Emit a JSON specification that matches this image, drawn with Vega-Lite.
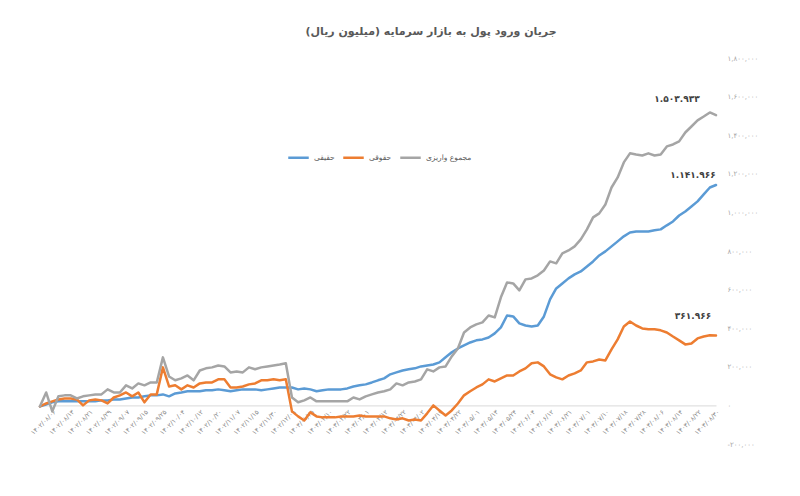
{
  "$schema": "https://vega.github.io/schema/vega-lite/v6.json",
  "autosize": "none",
  "width": 676,
  "height": 386,
  "padding": {"left": 40, "top": 58, "right": 84, "bottom": 52},
  "background": "white",
  "title": {"text": "جریان ورود پول به بازار سرمایه (میلیون ریال)", "font": "DejaVu Sans", "fontSize": 11, "fontWeight": "bold", "color": "#595959", "anchor": "middle", "frame": "group", "dx": 53, "offset": 6, "baseline": "bottom"},
  "config": {
    "locale": {"number": {"decimal": ".", "thousands": ",", "grouping": [3], "currency": ["", ""], "numerals": ["۰","۱","۲","۳","۴","۵","۶","۷","۸","۹"], "minus": "-"}},
    "view": {"stroke": null},
    "font": "DejaVu Sans"
  },
  "data": {"values": [
    {"d":"۱۴۰۲/۰۸/۰۱","حقیقی":-5000,"حقوقی":-5000,"مجموع واریزی":-5000},
    {"d":"۱۴۰۲/۰۸/۰۳","حقیقی":5000,"حقوقی":10000,"مجموع واریزی":67000},
    {"d":"۱۴۰۲/۰۸/۰۶","حقیقی":16000,"حقوقی":21000,"مجموع واریزی":-31000},
    {"d":"۱۴۰۲/۰۸/۰۸","حقیقی":21000,"حقوقی":31000,"مجموع واریزی":47000},
    {"d":"۱۴۰۲/۰۸/۱۰","حقیقی":21000,"حقوقی":36000,"مجموع واریزی":52000},
    {"d":"۱۴۰۲/۰۸/۱۳","حقیقی":21000,"حقوقی":36000,"مجموع واریزی":52000},
    {"d":"۱۴۰۲/۰۸/۱۵","حقیقی":21000,"حقوقی":31000,"مجموع واریزی":36000},
    {"d":"۱۴۰۲/۰۸/۱۷","حقیقی":21000,"حقوقی":0,"مجموع واریزی":47000},
    {"d":"۱۴۰۲/۰۸/۲۱","حقیقی":21000,"حقوقی":26000,"مجموع واریزی":52000},
    {"d":"۱۴۰۲/۰۸/۲۳","حقیقی":21000,"حقوقی":31000,"مجموع واریزی":57000},
    {"d":"۱۴۰۲/۰۸/۲۷","حقیقی":26000,"حقوقی":26000,"مجموع واریزی":57000},
    {"d":"۱۴۰۲/۰۸/۲۹","حقیقی":26000,"حقوقی":10000,"مجموع واریزی":83000},
    {"d":"۱۴۰۲/۰۹/۰۱","حقیقی":31000,"حقوقی":41000,"مجموع واریزی":67000},
    {"d":"۱۴۰۲/۰۹/۰۴","حقیقی":31000,"حقوقی":52000,"مجموع واریزی":67000},
    {"d":"۱۴۰۲/۰۹/۰۷","حقیقی":36000,"حقوقی":67000,"مجموع واریزی":104000},
    {"d":"۱۴۰۲/۰۹/۰۹","حقیقی":41000,"حقوقی":47000,"مجموع واریزی":88000},
    {"d":"۱۴۰۲/۰۹/۱۲","حقیقی":41000,"حقوقی":67000,"مجموع واریزی":114000},
    {"d":"۱۴۰۲/۰۹/۱۵","حقیقی":47000,"حقوقی":16000,"مجموع واریزی":104000},
    {"d":"۱۴۰۲/۰۹/۱۸","حقیقی":52000,"حقوقی":57000,"مجموع واریزی":119000},
    {"d":"۱۴۰۲/۰۹/۲۱","حقیقی":52000,"حقوقی":57000,"مجموع واریزی":119000},
    {"d":"۱۴۰۲/۰۹/۲۵","حقیقی":57000,"حقوقی":197000,"مجموع واریزی":249000},
    {"d":"۱۴۰۲/۰۹/۲۸","حقیقی":47000,"حقوقی":98000,"مجموع واریزی":150000},
    {"d":"۱۴۰۲/۱۰/۰۱","حقیقی":62000,"حقوقی":104000,"مجموع واریزی":130000},
    {"d":"۱۴۰۲/۱۰/۰۴","حقیقی":67000,"حقوقی":83000,"مجموع واریزی":140000},
    {"d":"۱۴۰۲/۱۰/۰۶","حقیقی":73000,"حقوقی":104000,"مجموع واریزی":155000},
    {"d":"۱۴۰۲/۱۰/۰۹","حقیقی":73000,"حقوقی":93000,"مجموع واریزی":130000},
    {"d":"۱۴۰۲/۱۰/۱۲","حقیقی":73000,"حقوقی":114000,"مجموع واریزی":181000},
    {"d":"۱۴۰۲/۱۰/۱۴","حقیقی":78000,"حقوقی":119000,"مجموع واریزی":192000},
    {"d":"۱۴۰۲/۱۰/۱۷","حقیقی":78000,"حقوقی":119000,"مجموع واریزی":197000},
    {"d":"۱۴۰۲/۱۰/۲۰","حقیقی":83000,"حقوقی":135000,"مجموع واریزی":207000},
    {"d":"۱۴۰۲/۱۰/۲۶","حقیقی":78000,"حقوقی":135000,"مجموع واریزی":202000},
    {"d":"۱۴۰۲/۱۱/۰۱","حقیقی":73000,"حقوقی":93000,"مجموع واریزی":171000},
    {"d":"۱۴۰۲/۱۱/۰۷","حقیقی":78000,"حقوقی":93000,"مجموع واریزی":176000},
    {"d":"۱۴۰۲/۱۱/۰۹","حقیقی":83000,"حقوقی":98000,"مجموع واریزی":171000},
    {"d":"۱۴۰۲/۱۱/۱۲","حقیقی":83000,"حقوقی":109000,"مجموع واریزی":197000},
    {"d":"۱۴۰۲/۱۱/۱۵","حقیقی":83000,"حقوقی":114000,"مجموع واریزی":187000},
    {"d":"۱۴۰۲/۱۱/۲۰","حقیقی":78000,"حقوقی":130000,"مجموع واریزی":197000},
    {"d":"۱۴۰۲/۱۱/۲۵","حقیقی":83000,"حقوقی":130000,"مجموع واریزی":202000},
    {"d":"۱۴۰۲/۱۱/۳۰","حقیقی":88000,"حقوقی":135000,"مجموع واریزی":207000},
    {"d":"۱۴۰۲/۱۲/۰۳","حقیقی":93000,"حقوقی":130000,"مجموع واریزی":212000},
    {"d":"۱۴۰۲/۱۲/۰۶","حقیقی":93000,"حقوقی":135000,"مجموع واریزی":218000},
    {"d":"۱۴۰۲/۱۲/۰۹","حقیقی":93000,"حقوقی":-31000,"مجموع واریزی":41000},
    {"d":"۱۴۰۲/۱۲/۱۹","حقیقی":83000,"حقوقی":-57000,"مجموع واریزی":16000},
    {"d":"۱۴۰۳/۰۱/۱۸","حقیقی":88000,"حقوقی":-78000,"مجموع واریزی":26000},
    {"d":"۱۴۰۳/۰۱/۲۵","حقیقی":83000,"حقوقی":-36000,"مجموع واریزی":41000},
    {"d":"۱۴۰۳/۰۱/۳۰","حقیقی":73000,"حقوقی":-57000,"مجموع واریزی":21000},
    {"d":"۱۴۰۳/۰۲/۰۴","حقیقی":78000,"حقوقی":-62000,"مجموع واریزی":21000},
    {"d":"۱۴۰۳/۰۲/۱۰","حقیقی":83000,"حقوقی":-62000,"مجموع واریزی":21000},
    {"d":"۱۴۰۳/۰۲/۱۴","حقیقی":83000,"حقوقی":-62000,"مجموع واریزی":21000},
    {"d":"۱۴۰۳/۰۲/۱۸","حقیقی":83000,"حقوقی":-57000,"مجموع واریزی":21000},
    {"d":"۱۴۰۳/۰۲/۲۲","حقیقی":88000,"حقوقی":-57000,"مجموع واریزی":21000},
    {"d":"۱۴۰۳/۰۲/۲۵","حقیقی":98000,"حقوقی":-57000,"مجموع واریزی":41000},
    {"d":"۱۴۰۳/۰۲/۲۹","حقیقی":104000,"حقوقی":-52000,"مجموع واریزی":31000},
    {"d":"۱۴۰۳/۰۳/۰۱","حقیقی":109000,"حقوقی":-57000,"مجموع واریزی":47000},
    {"d":"۱۴۰۳/۰۳/۰۵","حقیقی":119000,"حقوقی":-57000,"مجموع واریزی":57000},
    {"d":"۱۴۰۳/۰۳/۰۸","حقیقی":130000,"حقوقی":-57000,"مجموع واریزی":67000},
    {"d":"۱۴۰۳/۰۳/۱۲","حقیقی":140000,"حقوقی":-57000,"مجموع واریزی":73000},
    {"d":"۱۴۰۳/۰۳/۱۵","حقیقی":161000,"حقوقی":-67000,"مجموع واریزی":83000},
    {"d":"۱۴۰۳/۰۳/۱۹","حقیقی":171000,"حقوقی":-73000,"مجموع واریزی":114000},
    {"d":"۱۴۰۳/۰۳/۲۲","حقیقی":181000,"حقوقی":-67000,"مجموع واریزی":104000},
    {"d":"۱۴۰۳/۰۳/۲۶","حقیقی":187000,"حقوقی":-78000,"مجموع واریزی":119000},
    {"d":"۱۴۰۳/۰۳/۳۰","حقیقی":192000,"حقوقی":-73000,"مجموع واریزی":124000},
    {"d":"۱۴۰۳/۰۴/۰۲","حقیقی":202000,"حقوقی":-78000,"مجموع واریزی":135000},
    {"d":"۱۴۰۳/۰۴/۰۵","حقیقی":207000,"حقوقی":-41000,"مجموع واریزی":187000},
    {"d":"۱۴۰۳/۰۴/۰۹","حقیقی":212000,"حقوقی":0,"مجموع واریزی":176000},
    {"d":"۱۴۰۳/۰۴/۱۲","حقیقی":223000,"حقوقی":-26000,"مجموع واریزی":197000},
    {"d":"۱۴۰۳/۰۴/۱۶","حقیقی":249000,"حقوقی":-52000,"مجموع واریزی":202000},
    {"d":"۱۴۰۳/۰۴/۱۹","حقیقی":275000,"حقوقی":-26000,"مجموع واریزی":254000},
    {"d":"۱۴۰۳/۰۴/۲۲","حقیقی":295000,"حقوقی":10000,"مجموع واریزی":295000},
    {"d":"۱۴۰۳/۰۴/۲۵","حقیقی":311000,"حقوقی":52000,"مجموع واریزی":378000},
    {"d":"۱۴۰۳/۰۴/۲۹","حقیقی":326000,"حقوقی":73000,"مجموع واریزی":404000},
    {"d":"۱۴۰۳/۰۵/۰۱","حقیقی":337000,"حقوقی":93000,"مجموع واریزی":420000},
    {"d":"۱۴۰۳/۰۵/۰۶","حقیقی":342000,"حقوقی":109000,"مجموع واریزی":430000},
    {"d":"۱۴۰۳/۰۵/۰۹","حقیقی":352000,"حقوقی":135000,"مجموع واریزی":466000},
    {"d":"۱۴۰۳/۰۵/۱۳","حقیقی":373000,"حقوقی":124000,"مجموع واریزی":456000},
    {"d":"۱۴۰۳/۰۵/۱۶","حقیقی":404000,"حقوقی":140000,"مجموع واریزی":560000},
    {"d":"۱۴۰۳/۰۵/۲۰","حقیقی":466000,"حقوقی":155000,"مجموع واریزی":637000},
    {"d":"۱۴۰۳/۰۵/۲۴","حقیقی":461000,"حقوقی":155000,"مجموع واریزی":632000},
    {"d":"۱۴۰۳/۰۵/۲۸","حقیقی":425000,"حقوقی":176000,"مجموع واریزی":596000},
    {"d":"۱۴۰۳/۰۵/۳۱","حقیقی":414000,"حقوقی":192000,"مجموع واریزی":653000},
    {"d":"۱۴۰۳/۰۶/۰۴","حقیقی":409000,"حقوقی":218000,"مجموع واریزی":658000},
    {"d":"۱۴۰۳/۰۶/۰۶","حقیقی":414000,"حقوقی":223000,"مجموع واریزی":674000},
    {"d":"۱۴۰۳/۰۶/۱۰","حقیقی":461000,"حقوقی":202000,"مجموع واریزی":699000},
    {"d":"۱۴۰۳/۰۶/۱۲","حقیقی":549000,"حقوقی":161000,"مجموع واریزی":746000},
    {"d":"۱۴۰۳/۰۶/۱۴","حقیقی":606000,"حقوقی":145000,"مجموع واریزی":736000},
    {"d":"۱۴۰۳/۰۶/۱۸","حقیقی":632000,"حقوقی":135000,"مجموع واریزی":788000},
    {"d":"۱۴۰۳/۰۶/۲۱","حقیقی":658000,"حقوقی":155000,"مجموع واریزی":803000},
    {"d":"۱۴۰۳/۰۶/۲۵","حقیقی":679000,"حقوقی":166000,"مجموع واریزی":824000},
    {"d":"۱۴۰۳/۰۶/۲۸","حقیقی":694000,"حقوقی":181000,"مجموع واریزی":860000},
    {"d":"۱۴۰۳/۰۷/۰۱","حقیقی":720000,"حقوقی":223000,"مجموع واریزی":912000},
    {"d":"۱۴۰۳/۰۷/۰۴","حقیقی":746000,"حقوقی":228000,"مجموع واریزی":974000},
    {"d":"۱۴۰۳/۰۷/۰۷","حقیقی":777000,"حقوقی":238000,"مجموع واریزی":995000},
    {"d":"۱۴۰۳/۰۷/۱۰","حقیقی":798000,"حقوقی":233000,"مجموع واریزی":1041000},
    {"d":"۱۴۰۳/۰۷/۱۲","حقیقی":824000,"حقوقی":290000,"مجموع واریزی":1129000},
    {"d":"۱۴۰۳/۰۷/۱۵","حقیقی":850000,"حقوقی":342000,"مجموع واریزی":1181000},
    {"d":"۱۴۰۳/۰۷/۱۸","حقیقی":876000,"حقوقی":409000,"مجموع واریزی":1259000},
    {"d":"۱۴۰۳/۰۷/۲۱","حقیقی":896000,"حقوقی":435000,"مجموع واریزی":1306000},
    {"d":"۱۴۰۳/۰۷/۲۴","حقیقی":901000,"حقوقی":414000,"مجموع واریزی":1300000},
    {"d":"۱۴۰۳/۰۷/۲۸","حقیقی":901000,"حقوقی":399000,"مجموع واریزی":1295000},
    {"d":"۱۴۰۳/۰۸/۰۱","حقیقی":901000,"حقوقی":394000,"مجموع واریزی":1306000},
    {"d":"۱۴۰۳/۰۸/۰۳","حقیقی":907000,"حقوقی":394000,"مجموع واریزی":1295000},
    {"d":"۱۴۰۳/۰۸/۰۶","حقیقی":912000,"حقوقی":389000,"مجموع واریزی":1300000},
    {"d":"۱۴۰۳/۰۸/۰۸","حقیقی":933000,"حقوقی":378000,"مجموع واریزی":1342000},
    {"d":"۱۴۰۳/۰۸/۱۱","حقیقی":953000,"حقوقی":357000,"مجموع واریزی":1352000},
    {"d":"۱۴۰۳/۰۸/۱۴","حقیقی":984000,"حقوقی":337000,"مجموع واریزی":1368000},
    {"d":"۱۴۰۳/۰۸/۱۶","حقیقی":1005000,"حقوقی":316000,"مجموع واریزی":1414000},
    {"d":"۱۴۰۳/۰۸/۱۹","حقیقی":1031000,"حقوقی":321000,"مجموع واریزی":1445000},
    {"d":"۱۴۰۳/۰۸/۲۲","حقیقی":1057000,"حقوقی":347000,"مجموع واریزی":1477000},
    {"d":"۱۴۰۳/۰۸/۲۵","حقیقی":1093000,"حقوقی":357000,"مجموع واریزی":1497000},
    {"d":"۱۴۰۳/۰۸/۲۷","حقیقی":1129000,"حقوقی":363000,"مجموع واریزی":1518000},
    {"d":"۱۴۰۳/۰۸/۳۰","حقیقی":1141966,"حقوقی":361966,"مجموع واریزی":1503933,"lr":"۱.۱۴۱.۹۶۶","ll":"۳۶۱.۹۶۶","lt":"۱.۵۰۳.۹۳۳"}
  ]},
  "transform": [{"fold": ["حقیقی", "حقوقی", "مجموع واریزی"], "as": ["s", "v"]}],
  "encoding": {
    "x": {"field": "d", "type": "ordinal", "sort": null, "scale": {"type": "point", "padding": 0},
      "axis": {"title": null, "labelAngle": -45, "labelFont": "DejaVu Sans", "labelFontSize": 6.5, "labelColor": "#8C8C8C", "ticks": false, "domain": true, "domainColor": "#D9D9D9", "domainWidth": 1, "offset": -38.6, "labelPadding": 3, "grid": false, "labelOverlap": false, "labelBound": false, "labelFlush": false,
        "values": ["۱۴۰۲/۰۸/۰۶","۱۴۰۲/۰۸/۱۳","۱۴۰۲/۰۸/۲۱","۱۴۰۲/۰۸/۲۹","۱۴۰۲/۰۹/۰۷","۱۴۰۲/۰۹/۱۵","۱۴۰۲/۰۹/۲۵","۱۴۰۲/۱۰/۰۴","۱۴۰۲/۱۰/۱۲","۱۴۰۲/۱۰/۲۰","۱۴۰۲/۱۱/۰۷","۱۴۰۲/۱۱/۱۵","۱۴۰۲/۱۱/۳۰","۱۴۰۲/۱۲/۰۹","۱۴۰۳/۰۱/۲۵","۱۴۰۳/۰۲/۱۰","۱۴۰۳/۰۲/۲۲","۱۴۰۳/۰۳/۰۱","۱۴۰۳/۰۳/۱۲","۱۴۰۳/۰۳/۲۲","۱۴۰۳/۰۴/۰۲","۱۴۰۳/۰۴/۱۲","۱۴۰۳/۰۴/۲۲","۱۴۰۳/۰۵/۰۱","۱۴۰۳/۰۵/۱۳","۱۴۰۳/۰۵/۲۴","۱۴۰۳/۰۶/۰۴","۱۴۰۳/۰۶/۱۲","۱۴۰۳/۰۶/۲۱","۱۴۰۳/۰۷/۰۱","۱۴۰۳/۰۷/۱۰","۱۴۰۳/۰۷/۱۸","۱۴۰۳/۰۷/۲۸","۱۴۰۳/۰۸/۰۶","۱۴۰۳/۰۸/۱۴","۱۴۰۳/۰۸/۲۲","۱۴۰۳/۰۸/۳۰"]}},
    "y": {"field": "v", "type": "quantitative", "scale": {"domain": [-200000, 1800000], "nice": false, "zero": false},
      "axis": {"orient": "right", "title": null, "values": [-200000, 0, 200000, 400000, 600000, 800000, 1000000, 1200000, 1400000, 1600000, 1800000], "format": ",.0f", "domain": false, "ticks": false, "grid": false, "labelFont": "DejaVu Sans", "labelFontSize": 7, "labelColor": "#A6A6A6", "labelAlign": "left", "labelPadding": 11}}
  },
  "layer": [
    {"mark": {"type": "line", "strokeWidth": 2.5, "strokeJoin": "round", "strokeCap": "round"},
     "encoding": {"color": {"field": "s", "type": "nominal", "sort": null,
        "scale": {"domain": ["حقیقی", "حقوقی", "مجموع واریزی"], "range": ["#5B9BD5", "#ED7D31", "#A5A5A5"]},
        "legend": {"orient": "none", "legendX": 247, "legendY": 88, "direction": "horizontal", "title": null, "symbolType": "stroke", "symbolSize": 420, "symbolStrokeWidth": 2.5, "labelFont": "DejaVu Sans", "labelFontSize": 7.5, "labelColor": "#595959", "columnPadding": 3, "labelOffset": 4}}}},
    {"transform": [{"filter": "datum.s === 'مجموع واریزی' && datum.lt"}],
     "mark": {"type": "text", "dx": -39, "dy": -16, "font": "DejaVu Sans", "fontSize": 9, "fontWeight": "bold", "color": "#404040"},
     "encoding": {"text": {"field": "lt"}}},
    {"transform": [{"filter": "datum.s === 'حقیقی' && datum.lr"}],
     "mark": {"type": "text", "dx": -23, "dy": -10, "font": "DejaVu Sans", "fontSize": 9, "fontWeight": "bold", "color": "#404040"},
     "encoding": {"text": {"field": "lr"}}},
    {"transform": [{"filter": "datum.s === 'حقوقی' && datum.ll"}],
     "mark": {"type": "text", "dx": -23, "dy": -20, "font": "DejaVu Sans", "fontSize": 9, "fontWeight": "bold", "color": "#404040"},
     "encoding": {"text": {"field": "ll"}}}
  ]
}
